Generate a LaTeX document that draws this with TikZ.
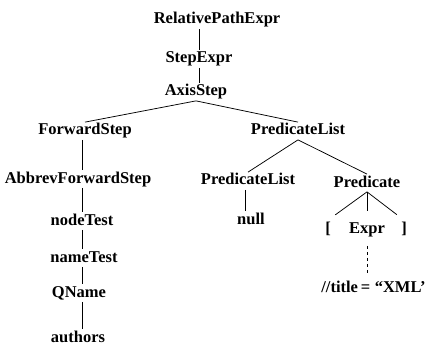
\documentclass[tikz,border=0pt]{standalone}
\usepackage{fontspec}
\setmainfont{Liberation Serif}
\tikzset{every picture/.style={line width=0.75pt}}
\tikzset{tnode/.style={font=\bfseries\fontsize{16.5}{18}\selectfont,inner sep=1pt,text height=11.5pt,text depth=3.5pt}}

\begin{document}
\begin{tikzpicture}[x=1pt,y=1pt,yscale=-1,xscale=1,every node/.style={tnode}]
        \useasboundingbox (0,0) rectangle (430,347);

        \node (rpe) at (217,20){RelativePathExpr};
        \node (stepexpr) at (199,59){StepExpr};
        \node (axisstep) at (196,92){AxisStep};
        \node (fwd) at (85,131){ForwardStep};
        \node (abbrev) at (78,179){AbbrevForwardStep};
        \node (nodetest) at (82,221){nodeTest};
        \node (nametest) at (84,258){nameTest};
        \node (qname) at (79,293){QName};
        \node (authors) at (78,338){authors};
        \node (predlist) at (298,131){PredicateList};
        \node (predlist2) at (248,181){PredicateList};
        \node (null) at (251,220){null};
        \node (pred) at (367,183){Predicate};
        \node (lbr) at (328,229){[};
        \node (expr) at (367,229){Expr};
        \node (rbr) at (404,229){]};
        \node[anchor=west] (title) at (320,288){//title\,=\;“XML’};

        \draw (stepexpr.north) -- (stepexpr.north |- rpe.south);
        \draw (stepexpr.south) -- (stepexpr.south |- axisstep.north);
        \draw (axisstep.south) -- (fwd.north);
        \draw (axisstep.south) -- (predlist.north);

        \draw (fwd.south -| nodetest) -- (abbrev.north -| nodetest);
        \draw (abbrev.south -| nodetest) -- (nodetest.north);
        \draw (nodetest.south) -- (nametest.north -| nodetest);
        \draw (nametest.south -| nodetest) -- (qname.north -| nodetest);
        \draw (qname.south -| nodetest) -- (authors.north -| nodetest);

        \draw (predlist.south) -- (predlist2.north);
        \draw (predlist.south) -- (pred.north);
        \draw ([xshift=-3pt]predlist2.south) -- ([xshift=-3pt]null.north -| predlist2.south);

        \draw[shorten >=9pt] (pred.south) -- (lbr.north);
        \draw[shorten >=9pt] (pred.south) -- (expr.north);
        \draw[shorten >=9pt] (pred.south) -- (rbr.north);
        \draw[dashed,shorten <=8pt,shorten >=6pt] (expr.south) -- (expr.south |- title.north);

        \end{tikzpicture}
\end{document}
